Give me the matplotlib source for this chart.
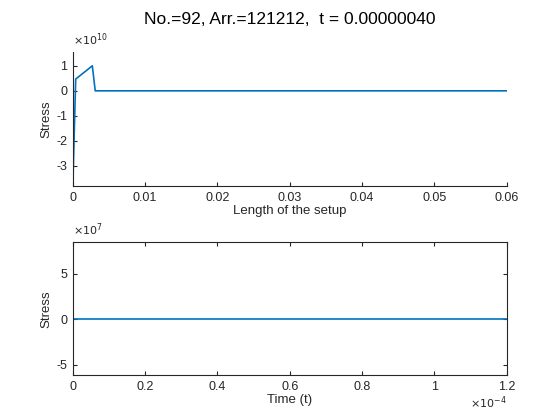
import matplotlib
matplotlib.use("Agg")
import matplotlib.pyplot as plt

plt.rcParams['font.family'] = ['Liberation Sans', 'DejaVu Sans']

# data
length = [0, 0.0004, 0.0027, 0.0031, 0.06]
stress_len = [-3.85e10, 0.47e10, 1.0e10, 0, 0]
time = [0, 1.2e-4]
stress_t = [0, 0]

len_ticks = [0, 0.01, 0.02, 0.03, 0.04, 0.05, 0.06]
len_labels = ['0', '0.01', '0.02', '0.03', '0.04', '0.05', '0.06']
s1_ticks = [-3, -2, -1, 0, 1]
t_ticks = [0, 0.2, 0.4, 0.6, 0.8, 1, 1.2]
s2_ticks = [-5, 0, 5]

title = "No.=92, Arr.=121212,  t = 0.00000040"
blue = "#0072BD"
axcol = "#262626"

fig = plt.figure(figsize=(5.6, 4.2), dpi=100)

def style(ax, box):
    for s in ax.spines.values():
        s.set_color(axcol)
        s.set_linewidth(0.8)
    if not box:
        ax.spines['top'].set_visible(False)
        ax.spines['right'].set_visible(False)
    ax.tick_params(direction='in', length=3, width=0.8, colors=axcol,
                   labelsize=9, top=box, right=box, pad=4)

ax1 = fig.add_axes([0.130, 0.557, 0.775, 0.319])
ax1.plot(length, stress_len, color=blue, lw=1.2)
ax1.set_xlim(0, 0.06)
ax1.set_ylim(-3.81e10, 1.55e10)
ax1.set_yticks([v * 1e10 for v in s1_ticks])
ax1.set_yticklabels([str(v) for v in s1_ticks])
ax1.set_xticks(len_ticks)
ax1.set_xticklabels(len_labels)
style(ax1, False)
ax1.set_xlabel("Length of the setup", fontsize=9.5, labelpad=1, color=axcol)
ax1.set_ylabel("Stress", fontsize=9.5, labelpad=3, color=axcol)
ax1.set_title(title, fontsize=12.5, pad=20)
ax1.text(0.0, 1.03, r"$\times10^{10}$", transform=ax1.transAxes,
         fontsize=8, color=axcol, ha='left', va='bottom')

ax2 = fig.add_axes([0.130, 0.106, 0.775, 0.318])
ax2.plot(time, stress_t, color=blue, lw=1.2)
ax2.set_xlim(0, 1.2e-4)
ax2.set_ylim(-6.16e7, 8.46e7)
ax2.set_yticks([v * 1e7 for v in s2_ticks])
ax2.set_yticklabels([str(v) for v in s2_ticks])
ax2.set_xticks([v * 1e-4 for v in t_ticks])
ax2.set_xticklabels([f"{v:g}" for v in t_ticks])
style(ax2, True)
ax2.set_xlabel("Time (t)", fontsize=9.5, labelpad=1, color=axcol)
ax2.set_ylabel("Stress", fontsize=9.5, labelpad=3, color=axcol)
ax2.text(0.0, 1.03, r"$\times10^{7}$", transform=ax2.transAxes,
         fontsize=8, color=axcol, ha='left', va='bottom')
ax2.text(1.0, -0.145, r"$\times10^{-4}$", transform=ax2.transAxes,
         fontsize=8, color=axcol, ha='right', va='top')

fig.savefig("out.png", dpi=100)
